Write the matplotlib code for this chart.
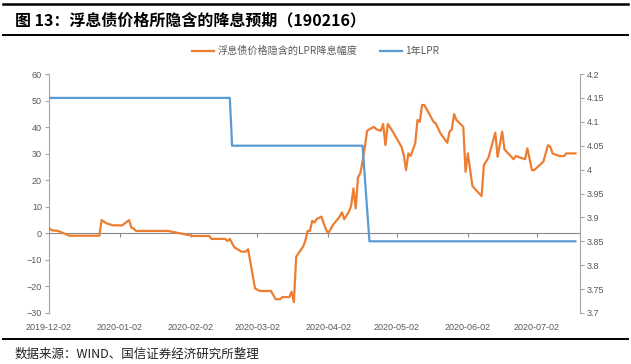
import numpy as np
import pandas as pd
import matplotlib
matplotlib.use('Agg')
import matplotlib.pyplot as plt
import matplotlib.dates as mdates
from matplotlib.lines import Line2D

plt.rcParams['font.family'] = ['Liberation Sans', 'Noto Sans CJK SC']

title = '图 13：浮息债价格所隐含的降息预期（190216）'
source = '数据来源：WIND、国信证券经济研究所整理'
name_spread = '浮息债价格隐含的LPR降息幅度'
name_lpr = '1年LPR'

spread_dates = [
    '2019-12-02', '2019-12-03', '2019-12-06', '2019-12-11', '2019-12-24', '2019-12-25',
    '2019-12-27', '2019-12-30', '2020-01-03', '2020-01-06', '2020-01-07', '2020-01-08',
    '2020-01-09', '2020-01-23', '2020-02-03', '2020-02-10', '2020-02-11', '2020-02-17',
    '2020-02-18', '2020-02-19', '2020-02-21', '2020-02-22', '2020-02-24', '2020-02-26',
    '2020-02-27', '2020-03-01', '2020-03-03', '2020-03-08', '2020-03-10', '2020-03-12',
    '2020-03-13', '2020-03-16', '2020-03-17', '2020-03-18', '2020-03-19', '2020-03-22',
    '2020-03-23', '2020-03-24', '2020-03-25', '2020-03-26', '2020-03-27', '2020-03-28',
    '2020-03-30', '2020-04-01', '2020-04-02', '2020-04-04', '2020-04-07', '2020-04-08',
    '2020-04-09', '2020-04-11', '2020-04-12', '2020-04-13', '2020-04-14', '2020-04-15',
    '2020-04-16', '2020-04-17', '2020-04-18', '2020-04-19', '2020-04-20', '2020-04-22',
    '2020-04-23', '2020-04-25', '2020-04-26', '2020-04-27', '2020-04-28', '2020-04-30',
    '2020-05-04', '2020-05-05', '2020-05-06', '2020-05-07', '2020-05-08', '2020-05-10',
    '2020-05-11', '2020-05-12', '2020-05-13', '2020-05-14', '2020-05-18', '2020-05-19',
    '2020-05-21', '2020-05-24', '2020-05-25', '2020-05-26', '2020-05-27', '2020-05-28',
    '2020-05-31', '2020-06-01', '2020-06-02', '2020-06-04', '2020-06-08', '2020-06-09',
    '2020-06-11', '2020-06-14', '2020-06-15', '2020-06-17', '2020-06-18', '2020-06-22',
    '2020-06-23', '2020-06-27', '2020-06-28', '2020-06-30', '2020-07-01', '2020-07-05',
    '2020-07-07', '2020-07-08', '2020-07-09', '2020-07-12', '2020-07-14', '2020-07-15',
    '2020-07-19',
]
spread_values = [
    2.1, 1.2, 0.9, -0.9, -0.9, 5.0,
    3.8, 3.0, 3.0, 5.0, 2.1, 1.8,
    0.9, 0.9, -1.0, -1.0, -2.1, -2.1,
    -2.9, -2.1, -5.3, -5.8, -6.9, -6.9,
    -6.0, -20.7, -21.7, -21.7, -24.8, -24.8,
    -24.0, -24.0, -22.0, -25.9, -8.8, -5.0,
    -2.8, 0.9, 0.9, 4.7, 4.1, 5.4,
    6.3, 1.5, 0.0, 3.1, 6.3, 7.9,
    5.3, 8.1, 10.3, 16.9, 9.4, 21.1,
    22.6, 27.0, 32.6, 38.6, 39.2, 40.1,
    39.2, 38.6, 41.2, 33.2, 41.2, 38.6,
    32.6, 29.5, 23.8, 30.1, 29.1, 33.9,
    42.7, 42.0, 48.3, 48.3, 42.0, 41.4,
    37.7, 34.1, 38.3, 39.2, 44.9, 42.7,
    40.1, 23.2, 30.1, 17.8, 14.0, 25.7,
    28.5, 37.9, 28.8, 38.3, 31.6, 27.9,
    29.1, 27.9, 32.0, 23.8, 23.8, 27.0,
    33.2, 32.6, 30.1, 29.1, 29.1, 30.1,
    30.1,
]

lpr_dates = ['2019-12-02', '2020-02-19', '2020-02-20', '2020-04-17', '2020-04-20', '2020-07-19']
lpr_values = [4.15, 4.15, 4.05, 4.05, 3.85, 3.85]

tick_dates = ['2019-12-02', '2020-01-02', '2020-02-02', '2020-03-02',
              '2020-04-02', '2020-05-02', '2020-06-02', '2020-07-02']
left_ticks = np.arange(-30, 61, 10)
right_ticks = np.arange(3.7, 4.2001, 0.05)

orange = '#ED7D31'
blue = '#5B9BD5'
grey = '#A6A6A6'
txt = '#595959'

fig = plt.figure(figsize=(6.31, 3.64), dpi=100)
ax = fig.add_axes([49 / 631, 1 - 313 / 364, 531 / 631, 239 / 364])

sx = pd.to_datetime(spread_dates)
lx = pd.to_datetime(lpr_dates)
ax.plot(sx, spread_values, color=orange, lw=1.6, label=name_spread, zorder=3)

ax.set_ylim(-30, 60)
ax.set_yticks(left_ticks)
ax.set_xlim(pd.Timestamp('2019-12-02'), pd.Timestamp('2020-07-21'))

tnum = mdates.date2num(pd.to_datetime(tick_dates))
ax.set_xticks(tnum)
ax.tick_params(axis='x', direction='out', length=3, color='#898989', labelbottom=False)
ax.spines['bottom'].set_position(('data', 0))
ax.spines['bottom'].set_color('#898989')
ax.spines['top'].set_visible(False)
ax.spines['right'].set_visible(False)
ax.spines['left'].set_color(grey)
ax.tick_params(axis='y', direction='out', length=3, color=grey, labelcolor=txt, labelsize=6.5, pad=2)

sec = ax.secondary_xaxis('bottom')
sec.set_xticks(tnum, labels=tick_dates)
sec.tick_params(length=0, labelsize=6.5, labelcolor=txt, pad=7)
sec.spines['bottom'].set_visible(False)

ax2 = ax.twinx()
ax2.plot(lx, lpr_values, color=blue, lw=1.6, label=name_lpr, zorder=3)
ax2.set_ylim(3.7, 4.2)
ax2.set_yticks(right_ticks, labels=[f'{v:g}' for v in np.round(right_ticks, 2)])
for s in ['top', 'bottom', 'left']:
    ax2.spines[s].set_visible(False)
ax2.spines['right'].set_color(grey)
ax2.tick_params(axis='y', direction='out', length=3, color=grey, labelcolor=txt, labelsize=6.5, pad=2)

handles = [Line2D([], [], color=orange, lw=1.6), Line2D([], [], color=blue, lw=1.6)]
leg = fig.legend(handles, [name_spread, name_lpr], loc='center', bbox_to_anchor=(0.5, 1 - 51 / 364),
                 ncol=2, frameon=False, prop={'family': 'Noto Sans CJK SC', 'size': 7.3},
                 handlelength=2.2, handletextpad=0.3, columnspacing=2.2)
for t in leg.get_texts():
    t.set_color(txt)

fig.text(15 / 631, 1 - 20.5 / 364, title, fontsize=11.5, fontweight='bold',
         family=['Noto Sans CJK SC', 'DejaVu Sans'], va='center', ha='left')
fig.text(15 / 631, 1 - 354 / 364, source, fontsize=9, family=['Noto Sans CJK SC', 'DejaVu Sans'],
         va='center', ha='left', color='#222222')

for y, w in [(3.5, 1.8), (35, 1.4), (339, 1.4)]:
    fig.add_artist(Line2D([3 / 631, 628 / 631], [1 - y / 364, 1 - y / 364],
                          transform=fig.transFigure, color='black', lw=w))

fig.savefig('out.png', dpi=100)
